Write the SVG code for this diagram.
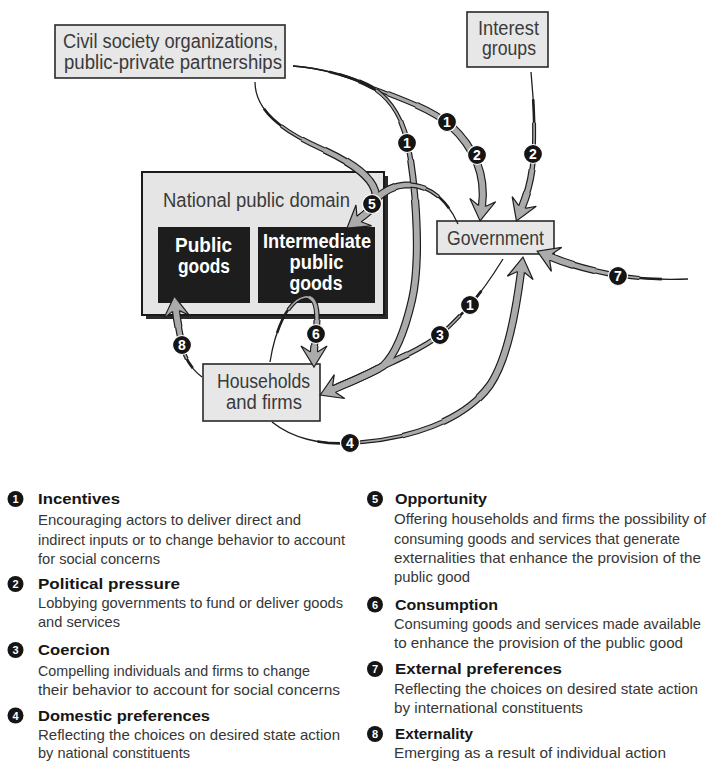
<svg xmlns="http://www.w3.org/2000/svg" xmlns:xlink="http://www.w3.org/1999/xlink" width="709" height="763" viewBox="0 0 709 763">
  <style>
    .bx { fill:#e7e7e7; stroke:#2a2a2a; stroke-width:1.6; }
    .dark { fill:#1d1d1d; }
    .lbl { font-family:"Liberation Sans", Arial, sans-serif; font-size:20px; fill:#3a3a3a; }
    .wl { font-family:"Liberation Sans", Arial, sans-serif; font-size:20px; font-weight:bold; fill:#ffffff; }
    .cn use { fill:none; stroke-linecap:butt; stroke-linejoin:round; }
    .k0 { stroke:#1e1e1e; stroke-width:1.3; }
    .k1 { stroke:#1e1e1e; stroke-width:2.6; stroke-dasharray:0 14 300; }
    .k2 { stroke:#1e1e1e; stroke-width:4; stroke-dasharray:0 26 300; }
    .k3 { stroke:#1e1e1e; stroke-width:5.5; stroke-dasharray:0 38 300; }
    .k4 { stroke:#1e1e1e; stroke-width:7; stroke-dasharray:0 50 300; }
    .k5 { stroke:#1e1e1e; stroke-width:8.2; stroke-dasharray:0 62 300; }
    .g2 { stroke:#ababab; stroke-width:1.6; stroke-dasharray:0 26 300; }
    .g3 { stroke:#ababab; stroke-width:3.1; stroke-dasharray:0 38 300; }
    .g4 { stroke:#ababab; stroke-width:4.6; stroke-dasharray:0 50 300; }
    .g5 { stroke:#ababab; stroke-width:5.8; stroke-dasharray:0 62 300; }
    .hd { marker-end:url(#head); }
    .badge circle { fill:#151515; stroke:#ffffff; stroke-width:1.2; }
    .badge text { font-family:"Liberation Sans", Arial, sans-serif; font-size:14px; font-weight:bold; fill:#ffffff; text-anchor:middle; }
    .key circle { fill:#151515; }
    .key .n { font-family:"Liberation Sans", Arial, sans-serif; font-size:11px; font-weight:bold; fill:#ffffff; text-anchor:middle; }
    .key .t { font-family:"Liberation Sans", Arial, sans-serif; font-size:15.5px; font-weight:bold; fill:#161616; }
    .key .d { font-family:"Liberation Sans", Arial, sans-serif; font-size:15px; fill:#363636; }
  </style>
  <defs>
    <marker id="head" markerUnits="userSpaceOnUse" orient="auto" viewBox="-10 -20 40 40" markerWidth="40" markerHeight="40" refX="0" refY="0" overflow="visible">
      <path d="M0,-3.5 L-6,-13 L15,0 L-6,13 L0,3.5" fill="#ababab" stroke="#1e1e1e" stroke-width="1.2" stroke-linejoin="miter"/>
    </marker>
    <!-- centerlines of the tapered flow arrows -->
    <path id="pA" pathLength="100" d="M293,66 C318,68 350,75 373,88 C405,100 432,110 450,125 C475,148 486,175 482,206"/>
    <path id="pB" pathLength="130" d="M293,66 C318,68 350,75 373,88 C392,100 403,120 408,145 C416,185 421,260 412,300 C405,330 395,355 383,366 C370,374 350,382 334,389"/>
    <path id="pC" pathLength="80" d="M503,259 C490,280 478,296 470,305 C458,318 448,328 440,335 C420,350 400,358 383,366 C370,374 350,382 334,389"/>
    <path id="pD" pathLength="100" d="M255,82 C255,112 285,132 320,148 C355,164 378,180 376,200 C375,208 367,213 359,219"/>
    <path id="pE" pathLength="100" d="M458,224 C445,195 425,184 405,185 C390,186 378,195 374,203 C371,210 366,214 359,219"/>
    <path id="pF" pathLength="70" d="M531,72 C535,110 535,150 532,170 C530,185 526,197 522,207"/>
    <path id="pG" pathLength="75" d="M688,279 C660,280 630,278 610,274 C585,269 565,263 551,257"/>
    <path id="pH" pathLength="100" d="M272,422 C292,438 320,445 350,443 C410,440 465,420 490,385 C508,358 516,310 521,272"/>
    <path id="pI" pathLength="65" d="M270,362 C275,330 288,300 305,297 C318,295 318,315 316,335 C315,342 314,347 314,352"/>
    <path id="pJ" pathLength="80" d="M202,377 C190,368 183,355 181,340 C179,330 177,320 176,311"/>
  </defs>

  <rect width="709" height="763" fill="#ffffff"/>

  <!-- nodes -->
  <g id="civil-society">
    <rect class="bx" x="55" y="25" width="230" height="53"/>
    <text class="lbl" x="63" y="48" textLength="215" lengthAdjust="spacingAndGlyphs">Civil society organizations,</text>
    <text class="lbl" x="64" y="69" textLength="218" lengthAdjust="spacingAndGlyphs">public-private partnerships</text>
  </g>
  <g id="interest-groups">
    <rect class="bx" x="467" y="12" width="81" height="55"/>
    <text class="lbl" x="478" y="35" textLength="61" lengthAdjust="spacingAndGlyphs">Interest</text>
    <text class="lbl" x="482" y="55" textLength="54" lengthAdjust="spacingAndGlyphs">groups</text>
  </g>
  <g id="national-public-domain">
    <rect x="146" y="176" width="242" height="143" fill="#2b2b2b"/>
    <rect x="142" y="172" width="242" height="143" fill="#e5e5e5" stroke="#1a1a1a" stroke-width="2"/>
    <text class="lbl" x="163" y="207" textLength="187" lengthAdjust="spacingAndGlyphs">National public domain</text>
  </g>
  <g id="public-goods">
    <rect class="dark" x="158" y="227" width="92" height="76"/>
    <text class="wl" x="175" y="251.5" textLength="57" lengthAdjust="spacingAndGlyphs">Public</text>
    <text class="wl" x="178" y="273" textLength="52" lengthAdjust="spacingAndGlyphs">goods</text>
  </g>
  <g id="intermediate-public-goods">
    <rect class="dark" x="258" y="227" width="117" height="76"/>
    <text class="wl" x="263" y="247.5" textLength="108" lengthAdjust="spacingAndGlyphs">Intermediate</text>
    <text class="wl" x="289.5" y="268.5" textLength="54" lengthAdjust="spacingAndGlyphs">public</text>
    <text class="wl" x="289.5" y="289.5" textLength="53" lengthAdjust="spacingAndGlyphs">goods</text>
  </g>
  <g id="government">
    <rect class="bx" x="437" y="221" width="117" height="33"/>
    <text class="lbl" x="447" y="244.5" textLength="97" lengthAdjust="spacingAndGlyphs">Government</text>
  </g>
  <g id="households-firms">
    <rect class="bx" x="203" y="364" width="117" height="57"/>
    <text class="lbl" x="217" y="388" textLength="93" lengthAdjust="spacingAndGlyphs">Households</text>
    <text class="lbl" x="226" y="408.5" textLength="76" lengthAdjust="spacingAndGlyphs">and firms</text>
  </g>

  <!-- connectors: stacked strokes give each arrow its taper -->
  <g id="connectors" class="cn">
    <!-- civil society to government -->
    <use href="#pA" class="k0"/><use href="#pA" class="k1"/><use href="#pA" class="k2"/><use href="#pA" class="k3"/><use href="#pA" class="k4"/><use href="#pA" class="k5"/>
    <use href="#pA" class="g2"/><use href="#pA" class="g3"/><use href="#pA" class="g4"/><use href="#pA" class="g5 hd"/>
    <!-- interest groups to government -->
    <use href="#pF" class="k0"/><use href="#pF" class="k1"/><use href="#pF" class="k2"/><use href="#pF" class="k3"/><use href="#pF" class="k4"/><use href="#pF" class="k5"/>
    <use href="#pF" class="g2"/><use href="#pF" class="g3"/><use href="#pF" class="g4"/><use href="#pF" class="g5 hd"/>
    <!-- external preferences -->
    <use href="#pG" class="k0"/><use href="#pG" class="k1"/><use href="#pG" class="k2"/><use href="#pG" class="k3"/><use href="#pG" class="k4"/><use href="#pG" class="k5"/>
    <use href="#pG" class="g2"/><use href="#pG" class="g3"/><use href="#pG" class="g4"/><use href="#pG" class="g5 hd"/>
    <!-- domestic preferences -->
    <use href="#pH" class="k0"/><use href="#pH" class="k1"/><use href="#pH" class="k2"/><use href="#pH" class="k3"/><use href="#pH" class="k4"/><use href="#pH" class="k5"/>
    <use href="#pH" class="g2"/><use href="#pH" class="g3"/><use href="#pH" class="g4"/><use href="#pH" class="g5 hd"/>
    <!-- incentives and coercion merging into households -->
    <use href="#pB" class="k0"/><use href="#pB" class="k1"/><use href="#pB" class="k2"/><use href="#pB" class="k3"/><use href="#pB" class="k4"/><use href="#pB" class="k5"/>
    <use href="#pC" class="k0"/><use href="#pC" class="k1"/><use href="#pC" class="k2"/><use href="#pC" class="k3"/><use href="#pC" class="k4"/><use href="#pC" class="k5"/>
    <use href="#pC" class="g2"/><use href="#pC" class="g3"/><use href="#pC" class="g4"/><use href="#pC" class="g5"/>
    <use href="#pB" class="g2"/><use href="#pB" class="g3"/><use href="#pB" class="g4"/><use href="#pB" class="g5 hd"/>
    <!-- opportunity, from civil society and government -->
    <use href="#pD" class="k0"/><use href="#pD" class="k1"/><use href="#pD" class="k2"/><use href="#pD" class="k3"/><use href="#pD" class="k4"/><use href="#pD" class="k5"/>
    <use href="#pE" class="k0"/><use href="#pE" class="k1"/><use href="#pE" class="k2"/><use href="#pE" class="k3"/><use href="#pE" class="k4"/><use href="#pE" class="k5"/>
    <use href="#pE" class="g2"/><use href="#pE" class="g3"/><use href="#pE" class="g4"/><use href="#pE" class="g5"/>
    <use href="#pD" class="g2"/><use href="#pD" class="g3"/><use href="#pD" class="g4"/><use href="#pD" class="g5 hd"/>
    <!-- consumption loop -->
    <use href="#pI" class="k0"/><use href="#pI" class="k1"/><use href="#pI" class="k2"/><use href="#pI" class="k3"/><use href="#pI" class="k4"/><use href="#pI" class="k5"/>
    <use href="#pI" class="g2"/><use href="#pI" class="g3"/><use href="#pI" class="g4"/><use href="#pI" class="g5 hd"/>
    <!-- externality -->
    <use href="#pJ" class="k0"/><use href="#pJ" class="k1"/><use href="#pJ" class="k2"/><use href="#pJ" class="k3"/><use href="#pJ" class="k4"/><use href="#pJ" class="k5"/>
    <use href="#pJ" class="g2"/><use href="#pJ" class="g3"/><use href="#pJ" class="g4"/><use href="#pJ" class="g5 hd"/>
  </g>

  <!-- numbered markers on the connectors -->
  <g id="badges">
    <g class="badge" transform="translate(447,122)"><circle r="9.5"/><text y="5">1</text></g>
    <g class="badge" transform="translate(477,155)"><circle r="9.5"/><text y="5">2</text></g>
    <g class="badge" transform="translate(407,143)"><circle r="9.5"/><text y="5">1</text></g>
    <g class="badge" transform="translate(533,154)"><circle r="9.5"/><text y="5">2</text></g>
    <g class="badge" transform="translate(372,204)"><circle r="9.5"/><text y="5">5</text></g>
    <g class="badge" transform="translate(470,305)"><circle r="9.5"/><text y="5">1</text></g>
    <g class="badge" transform="translate(440,335)"><circle r="9.5"/><text y="5">3</text></g>
    <g class="badge" transform="translate(618,276)"><circle r="9.5"/><text y="5">7</text></g>
    <g class="badge" transform="translate(350,443)"><circle r="9.5"/><text y="5">4</text></g>
    <g class="badge" transform="translate(316,334)"><circle r="9.5"/><text y="5">6</text></g>
    <g class="badge" transform="translate(182,345)"><circle r="9.5"/><text y="5">8</text></g>
  </g>

  <!-- key -->
  <g id="key" class="key">
    <circle cx="15.5" cy="499" r="8"/><text class="n" x="15.5" y="503">1</text>
    <text class="t" x="38" y="504" textLength="82" lengthAdjust="spacingAndGlyphs">Incentives</text>
    <text class="d" x="38" y="525" textLength="263" lengthAdjust="spacingAndGlyphs">Encouraging actors to deliver direct and</text>
    <text class="d" x="38" y="544.5" textLength="307" lengthAdjust="spacingAndGlyphs">indirect inputs or to change behavior to account</text>
    <text class="d" x="38" y="564" textLength="122" lengthAdjust="spacingAndGlyphs">for social concerns</text>

    <circle cx="15.5" cy="584" r="8"/><text class="n" x="15.5" y="588">2</text>
    <text class="t" x="38" y="589" textLength="142" lengthAdjust="spacingAndGlyphs">Political pressure</text>
    <text class="d" x="38" y="608" textLength="305" lengthAdjust="spacingAndGlyphs">Lobbying governments to fund or deliver goods</text>
    <text class="d" x="38" y="627" textLength="82" lengthAdjust="spacingAndGlyphs">and services</text>

    <circle cx="15.5" cy="650" r="8"/><text class="n" x="15.5" y="654">3</text>
    <text class="t" x="38" y="655" textLength="72" lengthAdjust="spacingAndGlyphs">Coercion</text>
    <text class="d" x="38" y="676" textLength="272" lengthAdjust="spacingAndGlyphs">Compelling individuals and firms to change</text>
    <text class="d" x="38" y="695" textLength="302" lengthAdjust="spacingAndGlyphs">their behavior to account for social concerns</text>

    <circle cx="15.5" cy="715.5" r="8"/><text class="n" x="15.5" y="719.5">4</text>
    <text class="t" x="38" y="720.5" textLength="172" lengthAdjust="spacingAndGlyphs">Domestic preferences</text>
    <text class="d" x="38" y="739.5" textLength="302" lengthAdjust="spacingAndGlyphs">Reflecting the choices on desired state action</text>
    <text class="d" x="38" y="758" textLength="152" lengthAdjust="spacingAndGlyphs">by national constituents</text>

    <circle cx="375" cy="499" r="8"/><text class="n" x="375" y="503">5</text>
    <text class="t" x="395" y="504" textLength="92" lengthAdjust="spacingAndGlyphs">Opportunity</text>
    <text class="d" x="394" y="524" textLength="312" lengthAdjust="spacingAndGlyphs">Offering households and firms the possibility of</text>
    <text class="d" x="394" y="543.5" textLength="286" lengthAdjust="spacingAndGlyphs">consuming goods and services that generate</text>
    <text class="d" x="394" y="563" textLength="307" lengthAdjust="spacingAndGlyphs">externalities that enhance the provision of the</text>
    <text class="d" x="394" y="582" textLength="76" lengthAdjust="spacingAndGlyphs">public good</text>

    <circle cx="375" cy="604.5" r="8"/><text class="n" x="375" y="608.5">6</text>
    <text class="t" x="395" y="609.5" textLength="103" lengthAdjust="spacingAndGlyphs">Consumption</text>
    <text class="d" x="394" y="629" textLength="307" lengthAdjust="spacingAndGlyphs">Consuming goods and services made available</text>
    <text class="d" x="394" y="648" textLength="289" lengthAdjust="spacingAndGlyphs">to enhance the provision of the public good</text>

    <circle cx="375" cy="669" r="8"/><text class="n" x="375" y="673">7</text>
    <text class="t" x="395" y="674" textLength="167" lengthAdjust="spacingAndGlyphs">External preferences</text>
    <text class="d" x="394" y="693.5" textLength="304" lengthAdjust="spacingAndGlyphs">Reflecting the choices on desired state action</text>
    <text class="d" x="394" y="712.5" textLength="189" lengthAdjust="spacingAndGlyphs">by international constituents</text>

    <circle cx="375" cy="734" r="8"/><text class="n" x="375" y="738">8</text>
    <text class="t" x="395" y="739" textLength="78" lengthAdjust="spacingAndGlyphs">Externality</text>
    <text class="d" x="394" y="758" textLength="272" lengthAdjust="spacingAndGlyphs">Emerging as a result of individual action</text>
  </g>
</svg>
